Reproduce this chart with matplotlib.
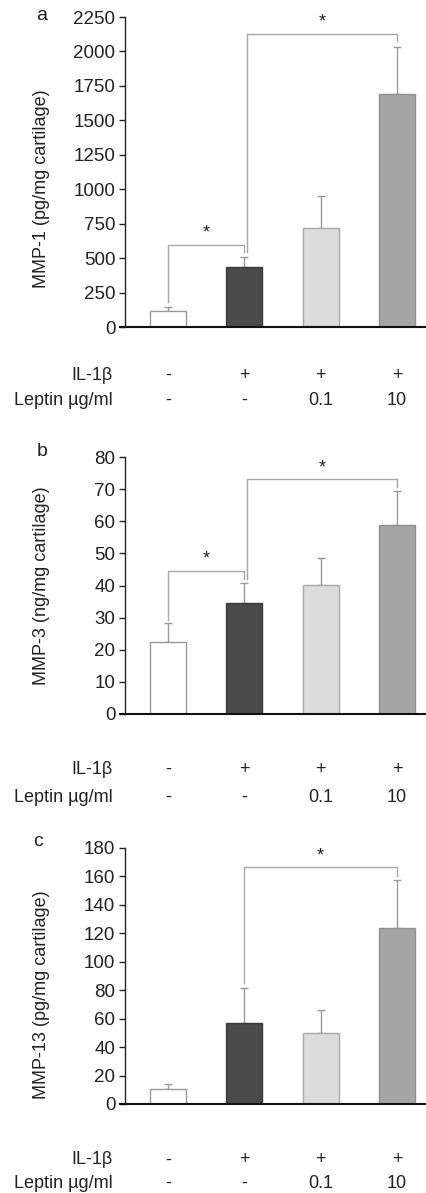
import matplotlib.pyplot as plt
import numpy as np

plt.rcParams['font.family'] = ['Liberation Sans', 'DejaVu Sans']

# data
groups = [0, 1, 2, 3]
il1b = ['-', '+', '+', '+']
leptin = ['-', '-', '0.1', '10']

mmp1_mean = [118, 437, 716, 1693]
mmp1_err = [25, 69, 235, 341]
mmp3_mean = [22.5, 34.6, 40.3, 58.9]
mmp3_err = [5.7, 6.2, 8.4, 10.5]
mmp13_mean = [10.3, 57.3, 49.7, 123.5]
mmp13_err = [3.8, 24.0, 16.6, 34.0]

# significance brackets: (left bar, right bar, bar height, left leg end, right leg end)
sig_a = [(0, 1, 595, 178, 545), (1.04, 3, 2127, 545, 2075)]
sig_b = [(0, 1, 44.6, 29.3, 42.0), (1.04, 3, 73.1, 42.0, 70.7)]
sig_c = [(1, 3, 166.3, 85, 160)]

fill_colors = ['white', '#4a4a4a', '#dcdcdc', '#a5a5a5']
edge_colors = ['#9a9a9a', '#3a3a3a', '#a8a8a8', '#909090']

W, H = 426, 1193
fig = plt.figure(figsize=(W / 100, H / 100), dpi=100)


def px_axes(left, top, right, bottom):
    return fig.add_axes([left / W, 1 - bottom / H, (right - left) / W, (bottom - top) / H])


def draw_panel(ax, means, errs, ymax, step, ylabel, ylab_y, sigs, row_off):
    ax.bar(groups, means, width=0.47, color=fill_colors, edgecolor=edge_colors,
           linewidth=1.0, zorder=2)
    ax.errorbar(groups, means, yerr=[np.zeros(4), errs], fmt='none',
                ecolor='#9a9a9a', elinewidth=1.0, capsize=3, capthick=1.0, zorder=1)
    for x1, x2, yh, y1, y2 in sigs:
        ax.plot([x1, x1, x2, x2], [y1, yh, yh, y2], color='#a8a8a8', lw=1.0,
                clip_on=False, zorder=1)
        ax.text((x1 + x2) / 2, yh + ymax * 0.012, '*', ha='center', va='bottom',
                fontsize=13, color='#222222')
    ax.set_xlim(-0.563, 3.38)
    ax.set_ylim(0, ymax)
    ax.set_yticks(np.arange(0, ymax + step / 2, step))
    ax.set_xticks([])
    for s in ['top', 'right']:
        ax.spines[s].set_visible(False)
    ax.spines['left'].set_color('#222222')
    ax.spines['left'].set_linewidth(1.0)
    ax.spines['bottom'].set_visible(False)
    ax.plot([-0.017, 1], [0, 0], transform=ax.transAxes, color='#111111', lw=1.5,
            clip_on=False, zorder=3)
    ax.tick_params(axis='y', direction='out', length=4, width=1.0, color='#222222',
                   labelsize=13.5, labelcolor='#222222', pad=3)
    ax.set_ylabel(ylabel, fontsize=13, color='#222222')
    ax.yaxis.set_label_coords(-0.25, ylab_y)
    # treatment rows under the axis
    r1, r2 = row_off
    ax.annotate('IL-1β', xy=(-0.72, 0), xycoords=('data', 'axes fraction'),
                xytext=(0, -r1 * 0.72), textcoords='offset points',
                ha='right', va='center', fontsize=13, color='#222222', annotation_clip=False)
    ax.annotate('Leptin µg/ml', xy=(-0.72, 0), xycoords=('data', 'axes fraction'),
                xytext=(0, -r2 * 0.72), textcoords='offset points',
                ha='right', va='center', fontsize=13, color='#222222', annotation_clip=False)
    for g, a, b in zip(groups, il1b, leptin):
        ax.annotate(a, xy=(g, 0), xycoords=('data', 'axes fraction'),
                    xytext=(0, -r1 * 0.72), textcoords='offset points',
                    ha='center', va='center', fontsize=13, color='#222222', annotation_clip=False)
        ax.annotate(b, xy=(g, 0), xycoords=('data', 'axes fraction'),
                    xytext=(0, -r2 * 0.72), textcoords='offset points',
                    ha='center', va='center', fontsize=13, color='#222222', annotation_clip=False)


ax_a = px_axes(125, 17, 426, 327)
draw_panel(ax_a, mmp1_mean, mmp1_err, 2250, 250, 'MMP-1 (pg/mg cartilage)', 0.445,
           sig_a, (48, 73))
ax_b = px_axes(125, 457, 426, 714)
draw_panel(ax_b, mmp3_mean, mmp3_err, 80, 10, 'MMP-3 (ng/mg cartilage)', 0.498,
           sig_b, (55, 83))
ax_c = px_axes(125, 848, 426, 1104)
draw_panel(ax_c, mmp13_mean, mmp13_err, 180, 20, 'MMP-13 (pg/mg cartilage)', 0.426,
           sig_c, (56, 79))

for lab, x, y in [('a', 42, 15), ('b', 42, 452), ('c', 38, 842)]:
    fig.text(x / W, 1 - y / H, lab, fontsize=14, color='#222222', ha='center', va='center')

fig.savefig('out.png', dpi=100, facecolor='white')
